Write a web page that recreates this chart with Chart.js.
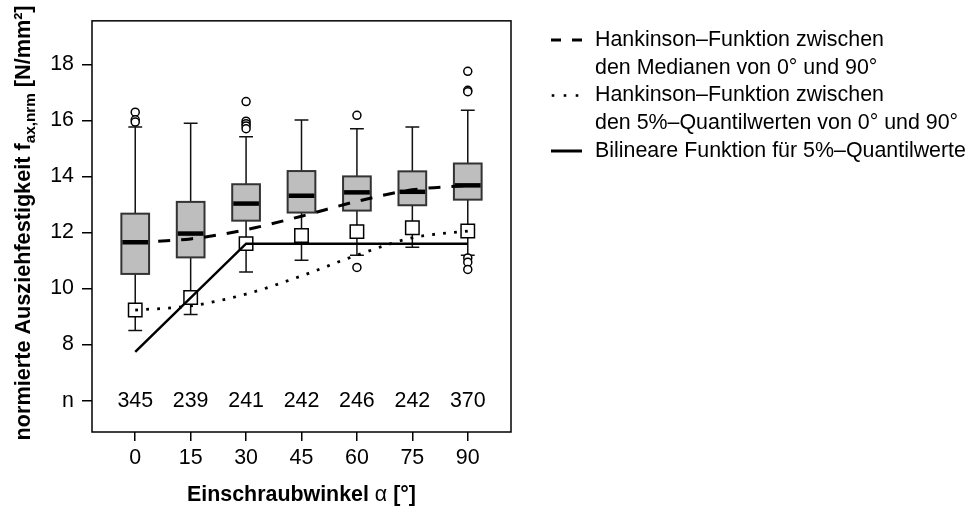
<!DOCTYPE html>
<html>
<head>
<meta charset="utf-8">
<script src="https://cdn.jsdelivr.net/npm/chart.js@4.4.0/dist/chart.umd.min.js"></script>
<style>
  html,body{margin:0;padding:0;background:#fff}
  #wrap{width:967px;height:507px;position:relative}
</style>
</head>
<body>
<div id="wrap"><canvas id="ch"></canvas></div>
<script>
// categories (Einschraubwinkel) and sample sizes
const angles = ['0','15','30','45','60','75','90'];
const nCounts = [345, 239, 241, 242, 246, 242, 370];

// boxplot statistics
const whiskerLow  = [8.50, 9.07, 10.59, 11.01, 11.19, 11.47, 11.19];
const boxLow      = [10.52, 11.11, 12.42, 12.71, 12.78, 12.97, 13.17];
const medians     = [11.65, 11.96, 13.03, 13.31, 13.43, 13.45, 13.68];
const boxHigh     = [12.67, 13.09, 13.72, 14.19, 14.00, 14.18, 14.46];
const whiskerHigh = [15.76, 15.90, 15.41, 16.01, 15.70, 15.76, 16.36];
const outliers = [
  [16.29, 16.02, 15.94],
  [],
  [16.67, 15.97, 15.88, 15.80, 15.70],
  [],
  [16.18, 10.75],
  [],
  [17.75, 17.07, 17.02, 11.09, 10.94, 10.68]
];

// 5%-Quantilwerte (open squares)
const quantile5 = [9.23, 9.68, 11.60, 11.89, 12.03, 12.17, 12.05];

// curves
const hankMedian = [11.65, 11.77, 12.10, 12.58, 13.11, 13.52, 13.68];
const hankQuant  = [9.23, 9.38, 9.80, 10.45, 11.19, 11.81, 12.05];
const bilinPos   = [1, 3, 7];
const bilinVal   = [7.74, 11.60, 11.60];

// y axis ticks
const yTickValues = [6, 8, 10, 12, 14, 16, 18];
const yTickLabels = ['n', '8', '10', '12', '14', '16', '18'];

const legendItems = [
  {style:'dash', lines:['Hankinson\u2013Funktion zwischen', 'den Medianen von 0\u00b0 und 90\u00b0']},
  {style:'dot',  lines:['Hankinson\u2013Funktion zwischen', 'den 5%\u2013Quantilwerten von 0\u00b0 und 90\u00b0']},
  {style:'solid',lines:['Bilineare Funktion f\u00fcr 5%\u2013Quantilwerte']}
];

const FONT = '"Liberation Sans", Arial, Helvetica, sans-serif';
Chart.defaults.font.family = FONT;
Chart.defaults.font.size = 21.4;
Chart.defaults.color = '#000';

const pos = angles.map((a,i) => i + 1);
const pts = arr => arr.map((v,i) => ({x: pos[i], y: v}));

// boxes, whiskers, n row, frame, titles, legend
const boxPlugin = {
  id: 'boxes',
  beforeDatasetsDraw(chart){
    const {ctx, scales:{x, y}} = chart;
    ctx.save();
    pos.forEach((p, i) => {
      const cx = x.getPixelForValue(p);
      const hw = x.getPixelForValue(p + 0.25) - cx;
      const cw = x.getPixelForValue(p + 0.125) - cx;
      const yLo = y.getPixelForValue(whiskerLow[i]), yHi = y.getPixelForValue(whiskerHigh[i]);
      const yB = y.getPixelForValue(boxLow[i]), yT = y.getPixelForValue(boxHigh[i]);
      const yM = y.getPixelForValue(medians[i]);
      ctx.strokeStyle = '#111';
      ctx.lineWidth = 1.5;
      ctx.beginPath();
      ctx.moveTo(cx, yB); ctx.lineTo(cx, yLo);
      ctx.moveTo(cx - cw, yLo); ctx.lineTo(cx + cw, yLo);
      ctx.moveTo(cx, yT); ctx.lineTo(cx, yHi);
      ctx.moveTo(cx - cw, yHi); ctx.lineTo(cx + cw, yHi);
      ctx.stroke();
      ctx.fillStyle = '#bebebe';
      ctx.fillRect(cx - hw, yT, 2 * hw, yB - yT);
      ctx.strokeStyle = '#333';
      ctx.lineWidth = 2;
      ctx.strokeRect(cx - hw, yT, 2 * hw, yB - yT);
      ctx.strokeStyle = '#000';
      ctx.lineWidth = 4.5;
      ctx.beginPath();
      ctx.moveTo(cx - hw + 1, yM); ctx.lineTo(cx + hw - 1, yM);
      ctx.stroke();
    });
    ctx.restore();
  },
  afterDraw(chart){
    const {ctx, chartArea:a, scales:{x, y}} = chart;
    ctx.save();
    // frame
    ctx.strokeStyle = '#000';
    ctx.lineWidth = 1.5;
    ctx.strokeRect(a.left, a.top, a.right - a.left, a.bottom - a.top);
    // n row
    ctx.fillStyle = '#000';
    ctx.font = '21.4px ' + FONT;
    ctx.textAlign = 'center';
    ctx.textBaseline = 'middle';
    nCounts.forEach((n, i) => ctx.fillText(String(n), x.getPixelForValue(pos[i]), y.getPixelForValue(6)));

    // x title
    const bold = 'bold 21.4px ' + FONT;
    const reg = '21.4px ' + FONT;
    const xParts = [['Einschraubwinkel ', bold], ['\u03b1', reg], [' [\u00b0]', bold]];
    let tw = 0;
    xParts.forEach(p => { ctx.font = p[1]; tw += ctx.measureText(p[0]).width; });
    let sx = (a.left + a.right) / 2 - tw / 2;
    ctx.textAlign = 'left';
    ctx.textBaseline = 'alphabetic';
    xParts.forEach(p => { ctx.font = p[1]; ctx.fillText(p[0], sx, 501); sx += ctx.measureText(p[0]).width; });

    // y title, rotated with subscript
    const ybold = 'bold 21.65px ' + FONT;
    const sub = 'bold 15.3px ' + FONT;
    const yParts = [['normierte Ausziehfestigkeit f', ybold, 0], ['ax,nrm', sub, 5], [' [N/mm\u00b2]', ybold, 0]];
    ctx.save();
    ctx.translate(30, (a.top + a.bottom) / 2 - 3.5);
    ctx.rotate(-Math.PI / 2);
    tw = 0;
    yParts.forEach(p => { ctx.font = p[1]; tw += ctx.measureText(p[0]).width; });
    sx = -tw / 2;
    yParts.forEach(p => { ctx.font = p[1]; ctx.fillText(p[0], sx, p[2]); sx += ctx.measureText(p[0]).width; });
    ctx.restore();

    // legend
    let row = 0;
    const rowY = r => 40 + r * 27.75;
    legendItems.forEach(item => {
      const ly = rowY(row);
      ctx.strokeStyle = '#000';
      ctx.fillStyle = '#000';
      ctx.beginPath();
      if (item.style === 'dash') {
        ctx.lineWidth = 3;
        ctx.moveTo(551, ly); ctx.lineTo(561, ly);
        ctx.moveTo(572, ly); ctx.lineTo(582, ly);
        ctx.stroke();
      } else if (item.style === 'dot') {
        [553, 565, 577].forEach(dx => ctx.fillRect(dx - 1.3, ly - 1.3, 2.6, 2.6));
      } else {
        ctx.lineWidth = 3;
        ctx.moveTo(551, ly); ctx.lineTo(582, ly);
        ctx.stroke();
      }
      ctx.font = reg;
      ctx.textBaseline = 'middle';
      item.lines.forEach(t => { ctx.fillText(t, 595, rowY(row)); row++; });
    });
    ctx.restore();
  }
};

new Chart(document.getElementById('ch'), {
  type: 'scatter',
  data: {
    datasets: [
      {label:'Hankinson Mediane', type:'line', data: pts(hankMedian), borderColor:'#000', borderWidth:3,
       borderDash:[12, 11], pointRadius:0, cubicInterpolationMode:'monotone', fill:false, order:0},
      {label:'Hankinson 5%', type:'line', data: pts(hankQuant), borderColor:'#000', borderWidth:2.8,
       borderDash:[2.8, 8.2], pointRadius:0, cubicInterpolationMode:'monotone', fill:false, order:0},
      {label:'Bilinear', type:'line', data: bilinPos.map((p,i)=>({x:p, y:bilinVal[i]})), borderColor:'#000',
       borderWidth:2.5, pointRadius:0, tension:0, fill:false, order:0},
      {label:'5%-Quantil', data: pts(quantile5), pointStyle:'rect', pointRadius:9.5,
       backgroundColor:'#fff', borderColor:'#000', borderWidth:1.5, order:1},
      {label:'Ausreisser', data: outliers.flatMap((o,i)=>o.map(v=>({x:pos[i], y:v}))), pointStyle:'circle',
       pointRadius:4, backgroundColor:'#fff', borderColor:'#000', borderWidth:1.5, order:2}
    ]
  },
  options: {
    responsive: true,
    maintainAspectRatio: false,
    animation: false,
    layout: {padding: {top:17, right:456, left:0, bottom:0}},
    plugins: {legend:{display:false}, tooltip:{enabled:false}},
    scales: {
      x: {
        type:'linear', min:0.22, max:7.78,
        afterBuildTicks: s => { s.ticks = pos.map(v => ({value:v})); },
        afterFit: s => { s.height = 75; },
        ticks: {callback:(v, i) => angles[i], padding:4, maxRotation:0, autoSkip:false},
        grid: {display:true, drawOnChartArea:false, drawTicks:true, tickLength:9, color:'#000', lineWidth:1.5},
        border: {display:false}
      },
      y: {
        type:'linear', min:4.88, max:19.55,
        afterBuildTicks: s => { s.ticks = yTickValues.map(v => ({value:v})); },
        afterFit: s => { s.width = 92; },
        ticks: {callback:(v, i) => yTickLabels[i], padding:8, autoSkip:false},
        grid: {display:true, drawOnChartArea:false, drawTicks:true, tickLength:10, color:'#000', lineWidth:1.5},
        border: {display:false}
      }
    }
  },
  plugins: [boxPlugin]
});
</script>
</body>
</html>
